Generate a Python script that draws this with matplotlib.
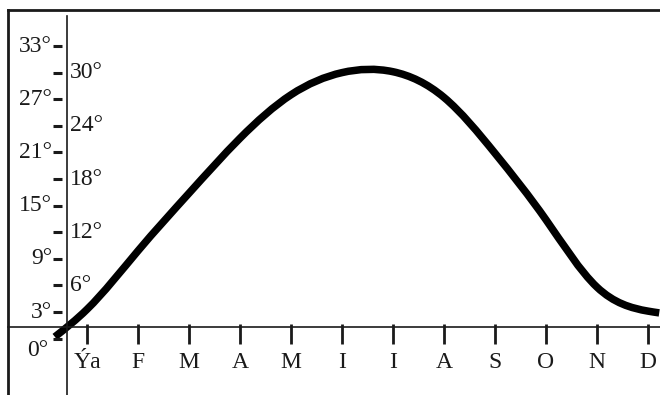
import numpy as np
import matplotlib
matplotlib.use("Agg")
import matplotlib.pyplot as plt
from matplotlib.path import Path
from matplotlib.patches import PathPatch

# meses (eje X) y temperatura media mensual (°C)
meses = ["Ýa", "F", "M", "A", "M", "I", "I", "A", "S", "O", "N", "D"]
temp = [3.3, 9.9, 16.4, 22.6, 27.5, 30.0, 30.1, 27.2, 20.9, 13.4, 5.8, 3.1]
# la curva arranca un poco antes de enero y acaba pasado diciembre
x_ini, t_ini = -0.63, 0.2
x_fin, t_fin = 11.22, 2.9
grados = list(range(0, 34, 3))

plt.rcParams["font.family"] = ["Liberation Serif", "DejaVu Serif"]
TINTA = "#1a1a1a"
FS = 17

fig = plt.figure(figsize=(6.6, 3.95), dpi=100)
ax = fig.add_axes([0, 0, 1, 1])
ax.set_xlim(-1.706, 11.235)
ax.set_ylim(-6.36, 38.19)
ax.axis("off")

# marco: solo borde superior e izquierdo
fig.add_artist(plt.Line2D([8 / 660, 1], [1 - 10 / 395] * 2, color=TINTA, lw=2.0))
fig.add_artist(plt.Line2D([8 / 660] * 2, [0, 1 - 10 / 395], color=TINTA, lw=2.0))

# ejes dibujados a mano
eje_x = 1.31
eje_y = -0.392
ax.axhline(eje_x, xmin=8 / 660, xmax=1, color=TINTA, lw=1.2)
ax.plot([eje_y, eje_y], [-6.36, 36.4], color=TINTA, lw=1.2)

# marcas y etiquetas de meses
xs = np.arange(len(meses))
ax.vlines(xs, -0.61, 1.65, color=TINTA, lw=2.0)
for i, m in enumerate(meses):
    ax.text(i, -2.75, m, ha="center", va="center", fontsize=FS, color=TINTA)

# marcas de grados: impares a la izquierda del eje, pares a la derecha
ax.hlines(grados, -0.667, -0.49, color=TINTA, lw=2.2)
for g in grados:
    if g == 0:
        ax.text(-0.766, g - 1.3, f"{g}°", ha="right", va="center", fontsize=FS, color=TINTA)
    elif g % 6:
        ax.text(-0.686, g, f"{g}°", ha="right", va="center", fontsize=FS, color=TINTA)
    else:
        ax.text(-0.333, g, f"{g}°", ha="left", va="center", fontsize=FS, color=TINTA)

# curva suave: spline cúbico natural escrito como tramos de Bézier
px = np.array([x_ini] + list(xs) + [x_fin], dtype=float)
py = np.array([t_ini] + temp + [t_fin], dtype=float)
n = len(px)
h = np.diff(px)
A = np.zeros((n, n))
b = np.zeros(n)
A[0, 0] = A[-1, -1] = 1
for k in range(1, n - 1):
    A[k, k - 1] = h[k - 1]
    A[k, k] = 2 * (h[k - 1] + h[k])
    A[k, k + 1] = h[k]
    b[k] = 6 * ((py[k + 1] - py[k]) / h[k] - (py[k] - py[k - 1]) / h[k - 1])
M = np.linalg.solve(A, b)
verts = [(px[0], py[0])]
codes = [Path.MOVETO]
for k in range(n - 1):
    s = (py[k + 1] - py[k]) / h[k]
    d0 = s - h[k] * (2 * M[k] + M[k + 1]) / 6
    d1 = s + h[k] * (M[k] + 2 * M[k + 1]) / 6
    verts += [(px[k] + h[k] / 3, py[k] + d0 * h[k] / 3),
              (px[k + 1] - h[k] / 3, py[k + 1] - d1 * h[k] / 3),
              (px[k + 1], py[k + 1])]
    codes += [Path.CURVE4] * 3
curva = PathPatch(Path(verts, codes), fill=False, edgecolor="black", lw=5.4,
                  capstyle="butt", joinstyle="round")
ax.add_patch(curva)

fig.savefig("out.png", dpi=100, facecolor="white")
